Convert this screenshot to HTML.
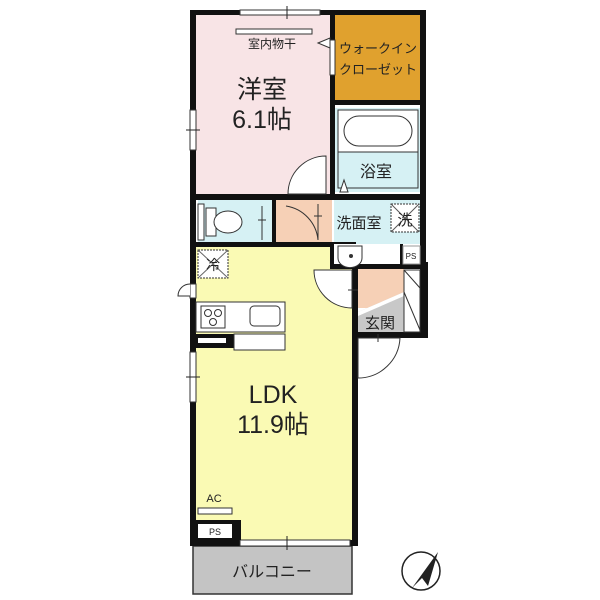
<!DOCTYPE html>
<html><head><meta charset="utf-8"><style>
html,body{margin:0;padding:0;background:#fff;width:600px;height:600px;overflow:hidden}
svg{display:block}
text{font-family:"Liberation Sans","Noto Sans CJK JP",sans-serif;fill:#222}
</style></head><body>
<svg width="600" height="600" viewBox="0 0 600 600">
<rect x="196" y="14" width="136" height="182" fill="#f8e4e6"/>
<rect x="334" y="14" width="86" height="86" fill="#e0a12e"/>
<rect x="335" y="108" width="85" height="84" fill="#d6f1f4"/>
<rect x="198" y="200" width="76" height="44" fill="#d6f1f4"/>
<rect x="276" y="200" width="56" height="46" fill="#f6d0b6"/>
<rect x="334" y="200" width="86" height="44" fill="#d6f1f4"/>
<rect x="196" y="246" width="156" height="297" fill="#fafab4"/>
<rect x="358" y="268" width="46" height="40" fill="#f6d0b6"/>
<polygon points="358,312 404,292 404,332 358,332" fill="#c8c8c8"/>
<polygon points="358,312 404,292 404,296 358,316" fill="#fff"/>
<rect x="193" y="546" width="159" height="48" fill="#c4c4c4" stroke="#333" stroke-width="1.5"/>

<g fill="#111">
<rect x="190" y="10" width="6" height="535"/>
<rect x="190" y="10" width="236" height="5"/>
<rect x="420" y="10" width="6" height="268"/>
<rect x="420" y="262" width="8" height="76"/>
<rect x="330" y="10" width="5" height="188"/>
<rect x="330" y="100" width="95" height="5"/>
<rect x="196" y="194" width="229" height="6"/>
<rect x="196" y="242" width="160" height="5"/>
<rect x="330" y="246" width="4" height="22"/>
<rect x="330" y="264" width="98" height="5"/>
<rect x="352" y="264" width="6" height="282"/>
<rect x="190" y="540" width="168" height="6"/>
<rect x="358" y="332" width="70" height="6"/>
<rect x="272" y="200" width="4" height="44"/>
<rect x="400" y="244" width="3" height="22"/>
</g>
<rect x="240" y="10" width="80" height="5" fill="#fff" stroke="#333" stroke-width="1"/>
<line x1="287" y1="6" x2="287" y2="19" stroke="#222"/>
<rect x="190" y="110" width="6" height="40" fill="#fff" stroke="#333"/>
<line x1="186" y1="130" x2="200" y2="130" stroke="#222"/>
<rect x="190" y="352" width="6" height="50" fill="#fff" stroke="#333"/>
<line x1="186" y1="377" x2="200" y2="377" stroke="#222"/>
<rect x="240" y="540" width="110" height="6" fill="#fff" stroke="#333"/>
<line x1="287" y1="536" x2="287" y2="550" stroke="#222"/>
<rect x="190" y="284" width="6" height="14" fill="#fff" stroke="#333"/>
<path d="M190 284 A12 12 0 0 0 178 296 L190 296" fill="#fff" stroke="#333"/>

<rect x="330" y="40" width="5" height="35" fill="#fff" stroke="#333"/>
<polygon points="318,43 330,38 330,48" fill="#fff" stroke="#333"/>
<rect x="236" y="29" width="76" height="5" fill="#fff" stroke="#333"/>
<text x="272" y="48" font-size="12" text-anchor="middle">室内物干</text>
<text x="378" y="53" font-size="13" text-anchor="middle">ウォークイン</text>
<text x="378" y="74" font-size="13" text-anchor="middle">クローゼット</text>
<text x="262" y="98" font-size="25" text-anchor="middle">洋室</text>
<text x="262" y="128" font-size="25" text-anchor="middle">6.1帖</text>

<path d="M326 156 A38 38 0 0 0 288 194 L326 194 Z" fill="#fff" stroke="#333"/>
<rect x="338" y="110" width="80" height="42" fill="#fff" stroke="#333"/>
<rect x="344" y="116" width="68" height="30" rx="15" fill="#fff" stroke="#333"/>
<rect x="338" y="152" width="80" height="36" fill="#d6f1f4" stroke="#333"/>
<text x="376" y="177" font-size="16" text-anchor="middle">浴室</text>
<polygon points="340,192 344,180 348,192" fill="#fff" stroke="#333"/>
<rect x="198" y="204" width="6" height="36" fill="#fff" stroke="#333"/>
<rect x="206" y="208" width="10" height="28" fill="#fff" stroke="#333"/>
<ellipse cx="228" cy="222" rx="14" ry="11" fill="#fff" stroke="#333"/>
<line x1="262" y1="206" x2="262" y2="240" stroke="#333"/>
<path d="M286 206 A38 38 0 0 1 318 240" fill="none" stroke="#333"/>
<line x1="318" y1="204" x2="318" y2="240" stroke="#333"/>
<line x1="258" y1="220" x2="266" y2="220" stroke="#333"/>
<line x1="314" y1="216" x2="322" y2="216" stroke="#333"/>
<text x="359" y="228" font-size="15" text-anchor="middle">洗面室</text>
<rect x="391" y="204" width="28" height="28" fill="#fff" stroke="#333" stroke-dasharray="2,1"/>
<line x1="391" y1="204" x2="419" y2="232" stroke="#555"/>
<line x1="419" y1="204" x2="391" y2="232" stroke="#555"/>
<text x="405" y="225" font-size="15" text-anchor="middle">洗</text>
<rect x="334" y="244" width="66" height="20" fill="#fff"/>
<path d="M338 246 L362 246 L362 258 A10 8 0 0 1 338 258 Z" fill="#fff" stroke="#333"/>
<circle cx="351" cy="256" r="2" fill="#333"/>
<rect x="403" y="246" width="17" height="18" fill="#fff" stroke="#999"/>
<text x="411" y="259" font-size="8" text-anchor="middle" fill="#666">PS</text>

<rect x="404" y="270" width="16" height="62" fill="#fff" stroke="#333"/>
<line x1="404" y1="270" x2="420" y2="288" stroke="#333"/>
<line x1="404" y1="292" x2="420" y2="330" stroke="#333"/>
<text x="380" y="328" font-size="15" text-anchor="middle">玄関</text>
<path d="M352 270 L314 270 A38 38 0 0 0 352 308 Z" fill="#fff" stroke="#333"/>
<line x1="348" y1="290" x2="358" y2="290" stroke="#333"/>
<path d="M358 338 L400 338 A42 42 0 0 1 358 378 Z" fill="#fff" stroke="#333"/>
<line x1="378" y1="334" x2="378" y2="342" stroke="#333"/>

<rect x="198" y="250" width="30" height="28" fill="#fff" stroke="#333" stroke-dasharray="2,1"/>
<line x1="198" y1="250" x2="228" y2="278" stroke="#666"/>
<line x1="228" y1="250" x2="198" y2="278" stroke="#666"/>
<text x="213" y="270" font-size="14" text-anchor="middle">冷</text>
<rect x="196" y="302" width="89" height="30" fill="#fff" stroke="#333"/>
<rect x="201" y="306" width="24" height="22" fill="#fff" stroke="#333"/>
<circle cx="208" cy="313" r="3.5" fill="none" stroke="#333"/>
<circle cx="218" cy="313" r="3.5" fill="none" stroke="#333"/>
<circle cx="213" cy="322" r="3.5" fill="none" stroke="#333"/>
<rect x="250" y="306" width="30" height="20" rx="4" fill="#fff" stroke="#333"/>
<rect x="196" y="334" width="38" height="14" fill="#111"/>
<rect x="198" y="338" width="28" height="5" fill="#fff"/>
<rect x="234" y="334" width="51" height="16" fill="#fff" stroke="#333"/>
<text x="273" y="403" font-size="25" text-anchor="middle">LDK</text>
<text x="273" y="433" font-size="25" text-anchor="middle">11.9帖</text>
<text x="214" y="502" font-size="11" text-anchor="middle">AC</text>
<rect x="198" y="508" width="34" height="6" fill="#fff" stroke="#333"/>
<rect x="196" y="520" width="45" height="20" fill="#111"/>
<rect x="198" y="524" width="34" height="14" fill="#fff"/>
<text x="215" y="535" font-size="9" text-anchor="middle" fill="#666">PS</text>
<text x="272" y="577" font-size="16" text-anchor="middle">バルコニー</text>

<circle cx="421" cy="571" r="19" fill="#fff" stroke="#222" stroke-width="1.5"/>
<polygon points="438,552 412,588 422,578 428,586" fill="#222"/>
</svg>
</body></html>
